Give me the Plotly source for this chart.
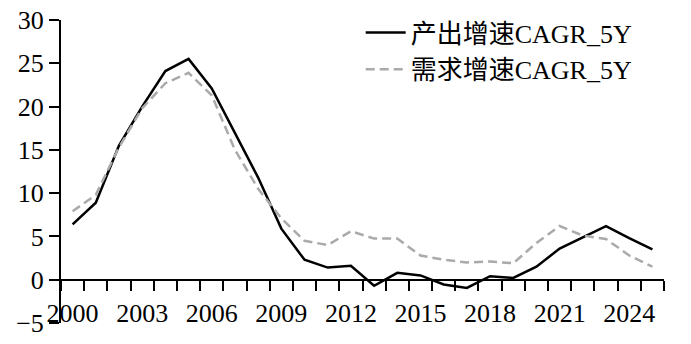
import plotly.graph_objects as go

years = list(range(2000, 2026))
output_cagr = [6.4, 8.9, 15.5, 20.0, 24.1, 25.5, 22.1, 17.0, 11.8, 5.9, 2.3, 1.4, 1.6, -0.7, 0.8,
               0.5, -0.55, -0.95, 0.4, 0.2, 1.5, 3.6, 4.9, 6.2, 4.8, 3.5]
demand_cagr = [7.9, 9.8, 15.3, 19.8, 22.7, 23.9, 21.3, 15.0, 10.5, 7.1, 4.5, 4.0, 5.6, 4.75, 4.75,
               2.8, 2.3, 2.0, 2.1, 1.9, 4.25, 6.2, 5.1, 4.7, 2.8, 1.5]
x_tick_labels = [str(y) for y in range(2000, 2026, 3)]
y_ticks = [-5, 0, 5, 10, 15, 20, 25, 30]

FONT = "Liberation Serif, Times New Roman, Noto Sans CJK SC, serif"

fig = go.Figure()
fig.add_trace(go.Scatter(x=years, y=output_cagr, mode="lines", name="产出增速CAGR_5Y",
                         line=dict(color="black", width=2.5)))
fig.add_trace(go.Scatter(x=years, y=demand_cagr, mode="lines", name="需求增速CAGR_5Y",
                         line=dict(color="#AAAAAA", width=2.5, dash="9px,5px")))

fig.update_layout(
    width=691, height=344,
    margin=dict(l=61, r=27, t=20, b=21, autoexpand=False),
    paper_bgcolor="white", plot_bgcolor="white",
    font=dict(family=FONT, size=26, color="black"),
    showlegend=True,
    legend=dict(x=0.497, y=1.036, xanchor="left", yanchor="top",
                bgcolor="rgba(0,0,0,0)", font=dict(size=26, family=FONT),
                tracegroupgap=0, itemwidth=40),
    xaxis=dict(
        range=[1999.5, 2025.5], anchor="free", position=5 / 35,
        showline=True, linecolor="black", linewidth=2,
        showgrid=False, zeroline=False,
        tickmode="array", tickvals=[int(t) for t in x_tick_labels], ticktext=x_tick_labels,
        ticks="", ticklabelstandoff=10,
        minor=dict(tickmode="array", tickvals=[y - 0.5 for y in years] + [2025.5],
                   ticks="outside", ticklen=10, tickwidth=2, tickcolor="black", showgrid=False),
        tickfont=dict(size=26, family=FONT),
    ),
    yaxis=dict(
        range=[-5, 30], tickmode="array", tickvals=y_ticks,
        showline=True, linecolor="black", linewidth=2,
        showgrid=False, zeroline=False,
        ticks="outside", ticklen=10, tickwidth=2, tickcolor="black",
        tickfont=dict(size=26, family=FONT),
    ),
)

fig.write_html("out.html")
